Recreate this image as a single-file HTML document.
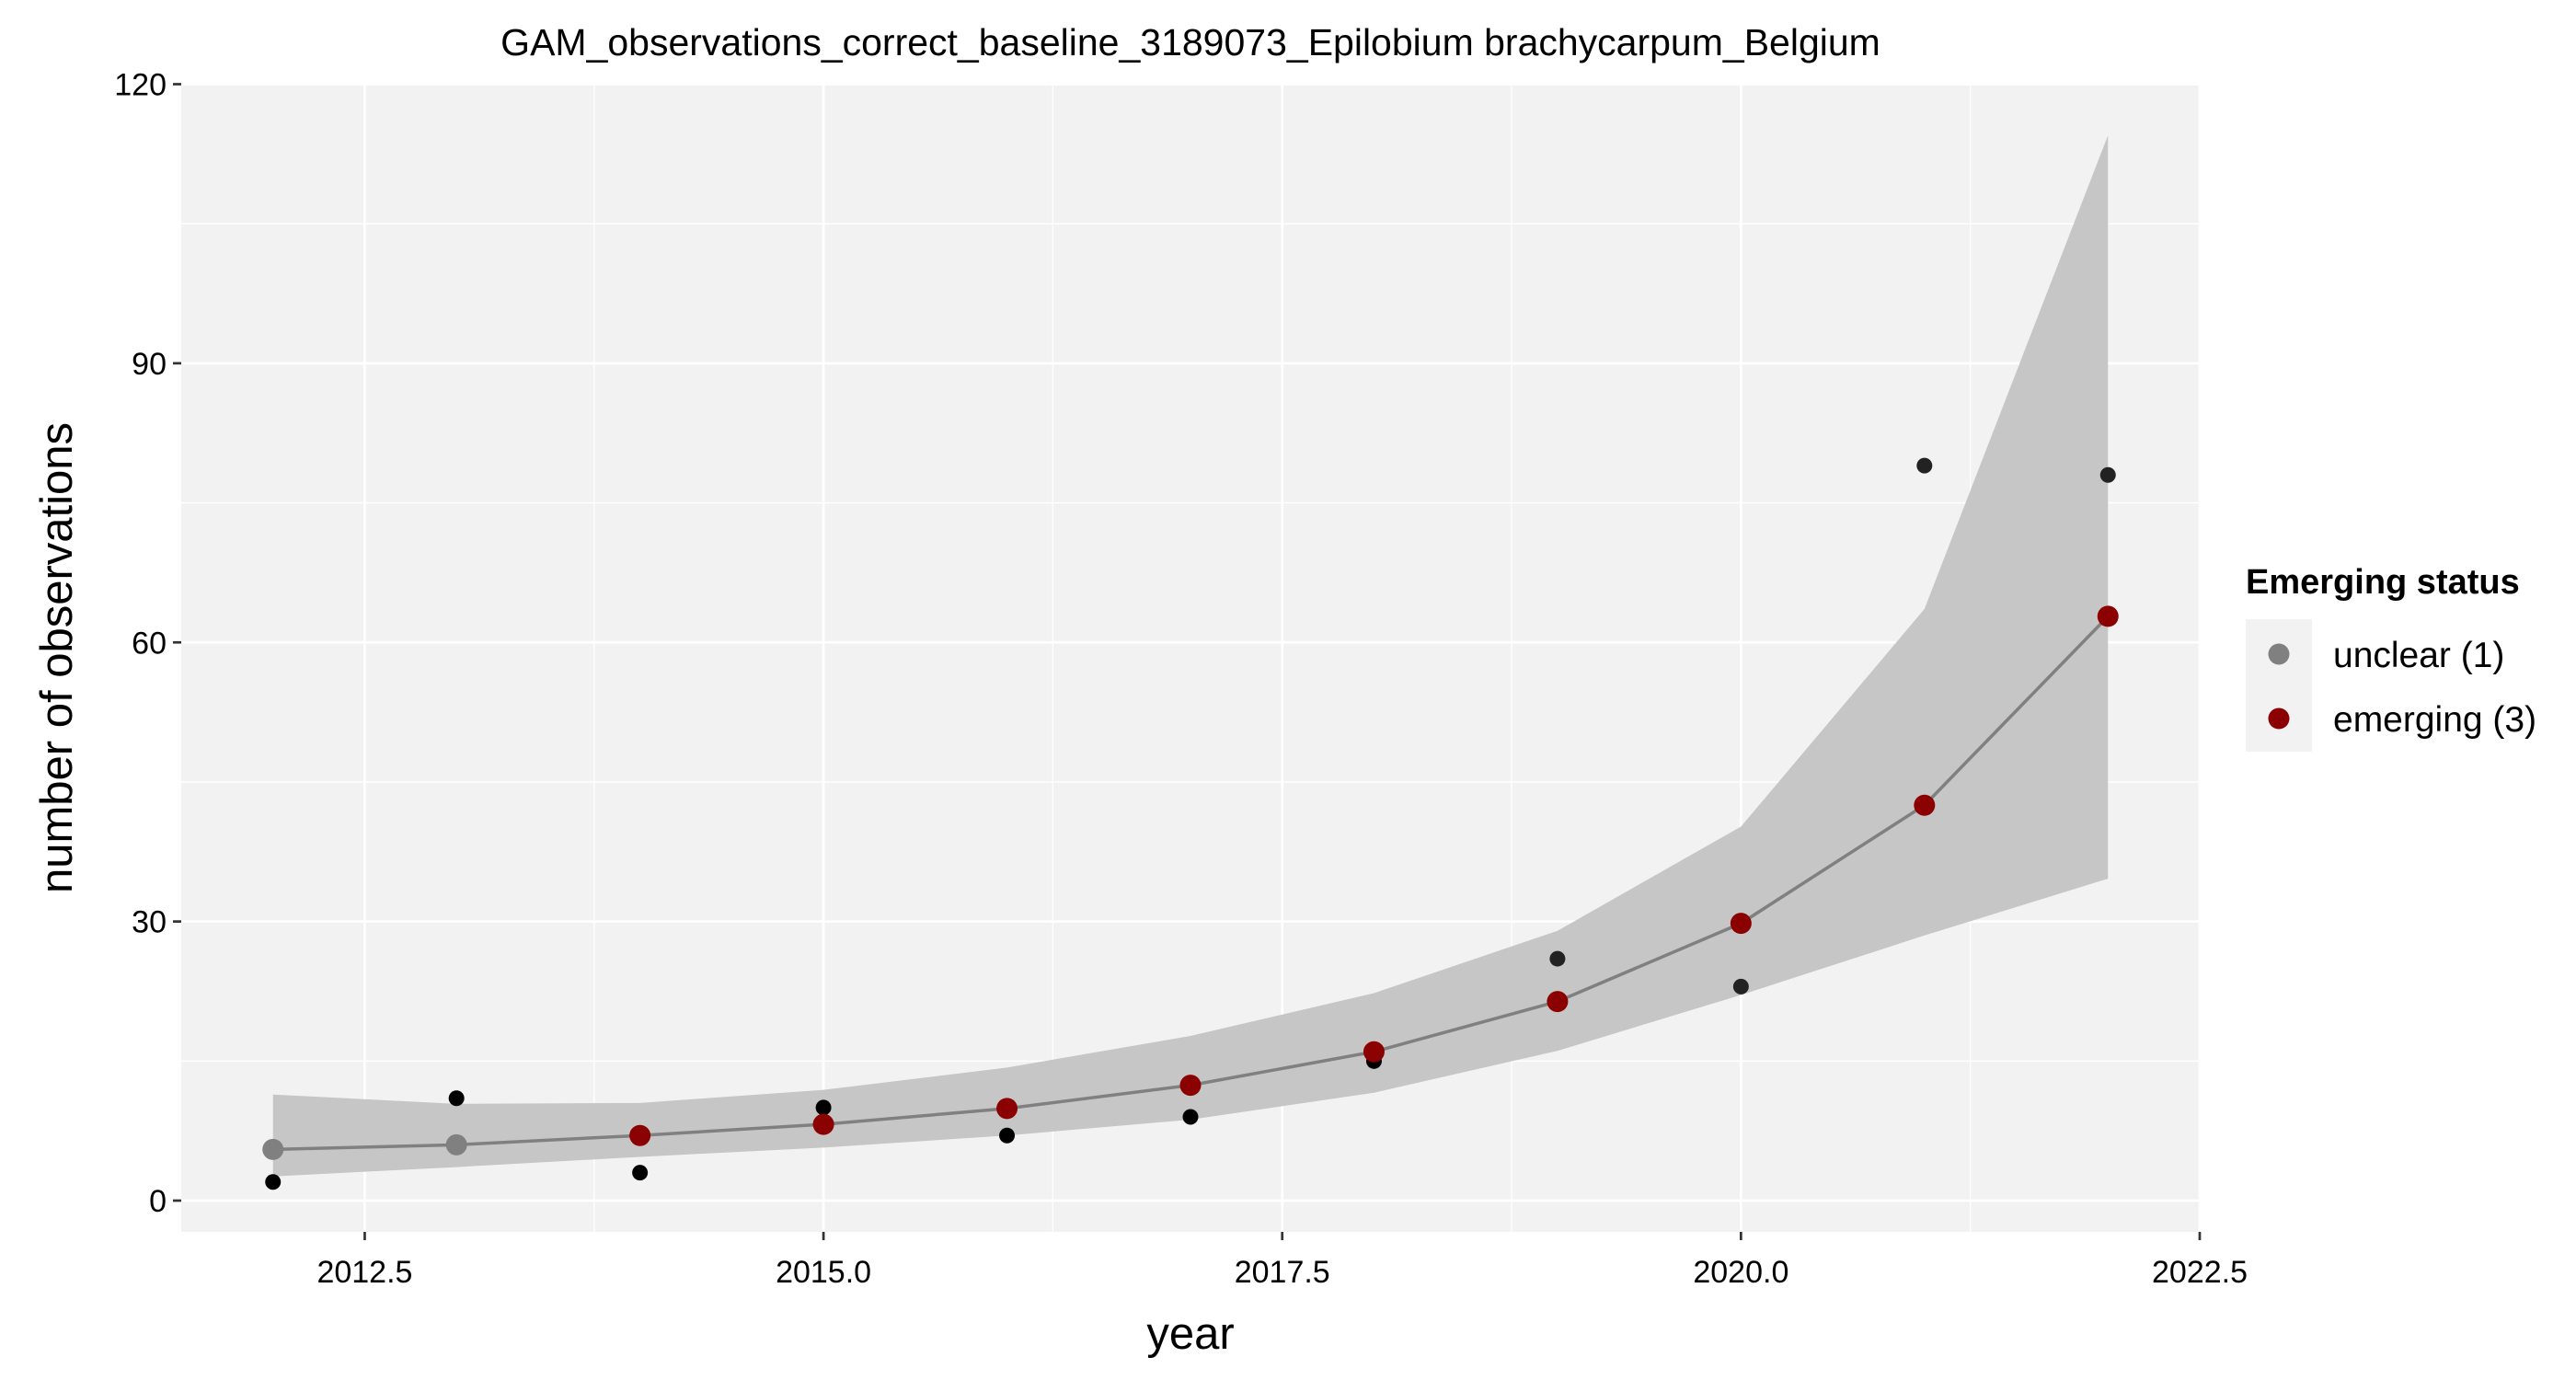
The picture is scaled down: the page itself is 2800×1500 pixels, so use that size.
<!DOCTYPE html>
<html><head><meta charset="utf-8"><style>
html,body{margin:0;padding:0;background:#fff;}
svg{display:block;font-family:"Liberation Sans",Arial,sans-serif;}
</style></head><body>
<svg id="chart" width="2800" height="1500" viewBox="0 0 2800 1500" xmlns="http://www.w3.org/2000/svg">
<rect x="0" y="0" width="2800" height="1500" fill="#fff"/>
<text x="1294" y="60" font-size="41" text-anchor="middle" fill="#000">GAM_observations_correct_baseline_3189073_Epilobium brachycarpum_Belgium</text>
<rect x="197" y="90" width="2194" height="1249" fill="#f2f2f2"/>
<g id="grid"></g>
<g id="ribbon-g"></g>
<g id="marks"></g>
<g id="axes"></g>
<text transform="translate(78,715) rotate(-90)" font-size="49" text-anchor="middle" fill="#000">number of observations</text>
<text x="1294" y="1466" font-size="49" text-anchor="middle" fill="#000">year</text>
<g>
<text x="2441" y="645" font-size="38" font-weight="bold" fill="#000">Emerging status</text>
<rect x="2441" y="673" width="72" height="144" fill="#f2f2f2"/>
<circle cx="2477" cy="711" r="11.5" fill="#808080"/>
<text x="2536" y="725" font-size="39" fill="#000">unclear (1)</text>
<circle cx="2477" cy="781" r="11.5" fill="#8b0000"/>
<text x="2536" y="795" font-size="39" fill="#000">emerging (3)</text>
</g>
</svg>
<script>
const years = [2012,2013,2014,2015,2016,2017,2018,2019,2020,2021,2022];
const fitted = [5.5,6.0,7.0,8.2,9.9,12.4,16.0,21.4,29.8,42.5,62.8];
const lower = [2.6,3.6,4.7,5.7,7.0,8.7,11.6,16.1,22.1,28.5,34.6];
const upper = [11.4,10.4,10.5,11.9,14.3,17.7,22.3,29.0,40.2,63.6,114.5];
const observed = [2,11,3,10,7,9,15,26,23,79,78];
const status = ["unclear","unclear","emerging","emerging","emerging","emerging","emerging","emerging","emerging","emerging","emerging"];
const xTicks = [2012.5,2015.0,2017.5,2020.0,2022.5];
const xTickLabels = ["2012.5","2015.0","2017.5","2020.0","2022.5"];
const xMinor = [2013.75,2016.25,2018.75,2021.25];
const yTicks = [0,30,60,90,120];
const yTickLabels = ["0","30","60","90","120"];
const yMinor = [15,45,75,105];

const NS="http://www.w3.org/2000/svg";
const PL=197,PR=2391,PT=90,PB=1339;
function xs(v){return PL+(v-2011.5)/(11)*(PR-PL);}
function ys(v){return 1305-v*(1305-91.5)/120;}
function mk(tag,attrs,parent){const e=document.createElementNS(NS,tag);for(const k in attrs)e.setAttribute(k,attrs[k]);parent.appendChild(e);return e;}
const grid=document.getElementById('grid'),rg=document.getElementById('ribbon-g'),marks=document.getElementById('marks'),axes=document.getElementById('axes');
xMinor.forEach(v=>{const l=mk('line',{x1:xs(v),x2:xs(v),y1:PT,y2:PB,stroke:'#fff','stroke-width':1.3},grid);

});
yMinor.forEach(v=>{const l=mk('line',{x1:PL,x2:PR,y1:ys(v),y2:ys(v),stroke:'#fff','stroke-width':1.3},grid);

});
xTicks.forEach((v,i)=>{const l=mk('line',{x1:xs(v),x2:xs(v),y1:PT,y2:PB,stroke:'#fff','stroke-width':2.7},grid);


const t=mk('line',{x1:xs(v),x2:xs(v),y1:PB,y2:PB+9,stroke:'#333','stroke-width':2.7},axes);


const tx=mk('text',{x:xs(v),y:1394,'font-size':34,'text-anchor':'middle',fill:'#000'},axes);tx.textContent=xTickLabels[i];

});
yTicks.forEach((v,i)=>{const l=mk('line',{x1:PL,x2:PR,y1:ys(v),y2:ys(v),stroke:'#fff','stroke-width':2.7},grid);


const t=mk('line',{x1:PL-9,x2:PL,y1:ys(v),y2:ys(v),stroke:'#333','stroke-width':2.7},axes);


const tx=mk('text',{x:PL-16,y:ys(v)+12,'font-size':34,'text-anchor':'end',fill:'#000'},axes);tx.textContent=yTickLabels[i];

});
let pts=years.map((y,i)=>xs(y)+','+ys(upper[i]));
pts=pts.concat(years.map((y,i)=>xs(y)+','+ys(lower[i])).reverse());
const rib=mk('polygon',{points:pts.join(' '),fill:'#c6c6c6'},rg);


const line=mk('polyline',{points:years.map((y,i)=>xs(y)+','+ys(fitted[i])).join(' '),fill:'none',stroke:'#808080','stroke-width':3.5},marks);


years.forEach((y,i)=>{const c=mk('circle',{cx:xs(y),cy:ys(observed[i]),r:8.5,fill:i>6?'#222':'#000'},marks);

});
years.forEach((y,i)=>{const c=mk('circle',{cx:xs(y),cy:ys(fitted[i]),r:11.5,fill:status[i]==='unclear'?'#808080':'#8b0000'},marks);

});
</script>
</body></html>
